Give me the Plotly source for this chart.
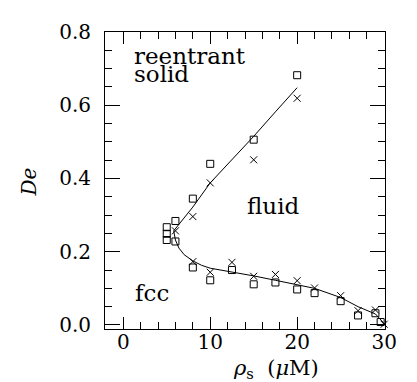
import plotly.graph_objects as go

# squares (open)
sq_x = [20, 15, 10, 8, 6, 6, 5, 5, 5, 8, 10, 12.5, 15, 17.5, 20, 22, 25, 27, 29, 29.6]
sq_y = [0.682, 0.506, 0.440, 0.345, 0.284, 0.228, 0.267, 0.249, 0.232, 0.157, 0.122, 0.150, 0.111, 0.116, 0.097, 0.087, 0.065, 0.026, 0.032, 0.008]
# crosses
cr_x = [20, 15, 10, 8, 6, 8, 10, 12.5, 15, 17.5, 20, 22, 25, 27, 29, 30]
cr_y = [0.619, 0.451, 0.388, 0.296, 0.257, 0.173, 0.144, 0.171, 0.133, 0.138, 0.121, 0.101, 0.080, 0.039, 0.041, 0.002]
# fitted phase boundary
fit_up_x = [5.8, 7, 8, 10, 12.5, 15, 17.5, 20]
fit_up_y = [0.257, 0.292, 0.322, 0.388, 0.452, 0.515, 0.582, 0.648]
fit_lo_x = [5.8, 6.0, 6.4, 7.0, 8.0, 9.0, 10, 12.5, 15, 17.5, 20, 22, 25, 27, 29, 29.6, 30]
fit_lo_y = [0.257, 0.232, 0.210, 0.192, 0.175, 0.163, 0.155, 0.145, 0.134, 0.122, 0.110, 0.100, 0.075, 0.050, 0.030, 0.015, 0.004]

FONT = "DejaVu Serif"

fig = go.Figure()
fig.add_trace(go.Scatter(x=fit_up_x, y=fit_up_y, mode="lines", line=dict(color="black", width=1), showlegend=False))
fig.add_trace(go.Scatter(x=fit_lo_x, y=fit_lo_y, mode="lines", line=dict(color="black", width=1), showlegend=False))
fig.add_trace(go.Scatter(x=sq_x, y=sq_y, mode="markers", cliponaxis=False,
                         marker=dict(symbol="square-open", size=7, color="black", line=dict(width=1)),
                         showlegend=False))
fig.add_trace(go.Scatter(x=cr_x, y=cr_y, mode="markers", cliponaxis=False,
                         marker=dict(symbol="x-thin-open", size=7, color="black", line=dict(width=1, color="black")),
                         showlegend=False))

ann = dict(showarrow=False, font=dict(family=FONT, size=23, color="black"), xref="x", yref="y")
fig.add_annotation(text="reentrant", x=1.0, y=0.734, xanchor="left", yanchor="middle", **ann)
fig.add_annotation(text="solid", x=1.0, y=0.686, xanchor="left", yanchor="middle", **ann)
fig.add_annotation(text="fluid", x=17.3, y=0.326, xanchor="center", yanchor="middle", **ann)
fig.add_annotation(text="fcc", x=3.3, y=0.088, xanchor="center", yanchor="middle", **ann)

# axis titles as annotations
fig.add_annotation(text="<i>ρ</i><sub>s</sub>  (<i>μ</i>M)", x=17.6, y=-0.135, xref="x", yref="paper",
                   showarrow=False, font=dict(family=FONT, size=21, color="black"),
                   xanchor="center", yanchor="middle")
fig.add_annotation(text="<i>De</i>", x=-0.27, y=0.39, xref="paper", yref="y", textangle=-90,
                   showarrow=False, font=dict(family=FONT, size=20, color="black"),
                   xanchor="center", yanchor="middle")

axis_common = dict(showgrid=False, zeroline=False, showline=True, linecolor="black", linewidth=1,
                   mirror="ticks", ticks="inside", tickcolor="black", tickwidth=1,
                   tickfont=dict(family=FONT, size=20, color="black"))
fig.update_xaxes(range=[-2.1, 30.1], tickvals=[0, 10, 20, 30], ticklen=12, ticklabelstandoff=-5,
                 minor=dict(dtick=2, tick0=0, ticks="inside", ticklen=7, tickcolor="black", tickwidth=1),
                 **axis_common)
fig.update_yaxes(range=[-0.011, 0.8], tickvals=[0, 0.2, 0.4, 0.6, 0.8], tickformat=".1f", ticklen=15,
                 ticklabelstandoff=9,
                 minor=dict(dtick=0.05, tick0=0, ticks="inside", ticklen=7, tickcolor="black", tickwidth=1),
                 **axis_common)
fig.update_layout(width=417, height=382, margin=dict(l=97, r=40, t=17, b=61),
                  plot_bgcolor="white", paper_bgcolor="white")
fig.write_html("out.html")
